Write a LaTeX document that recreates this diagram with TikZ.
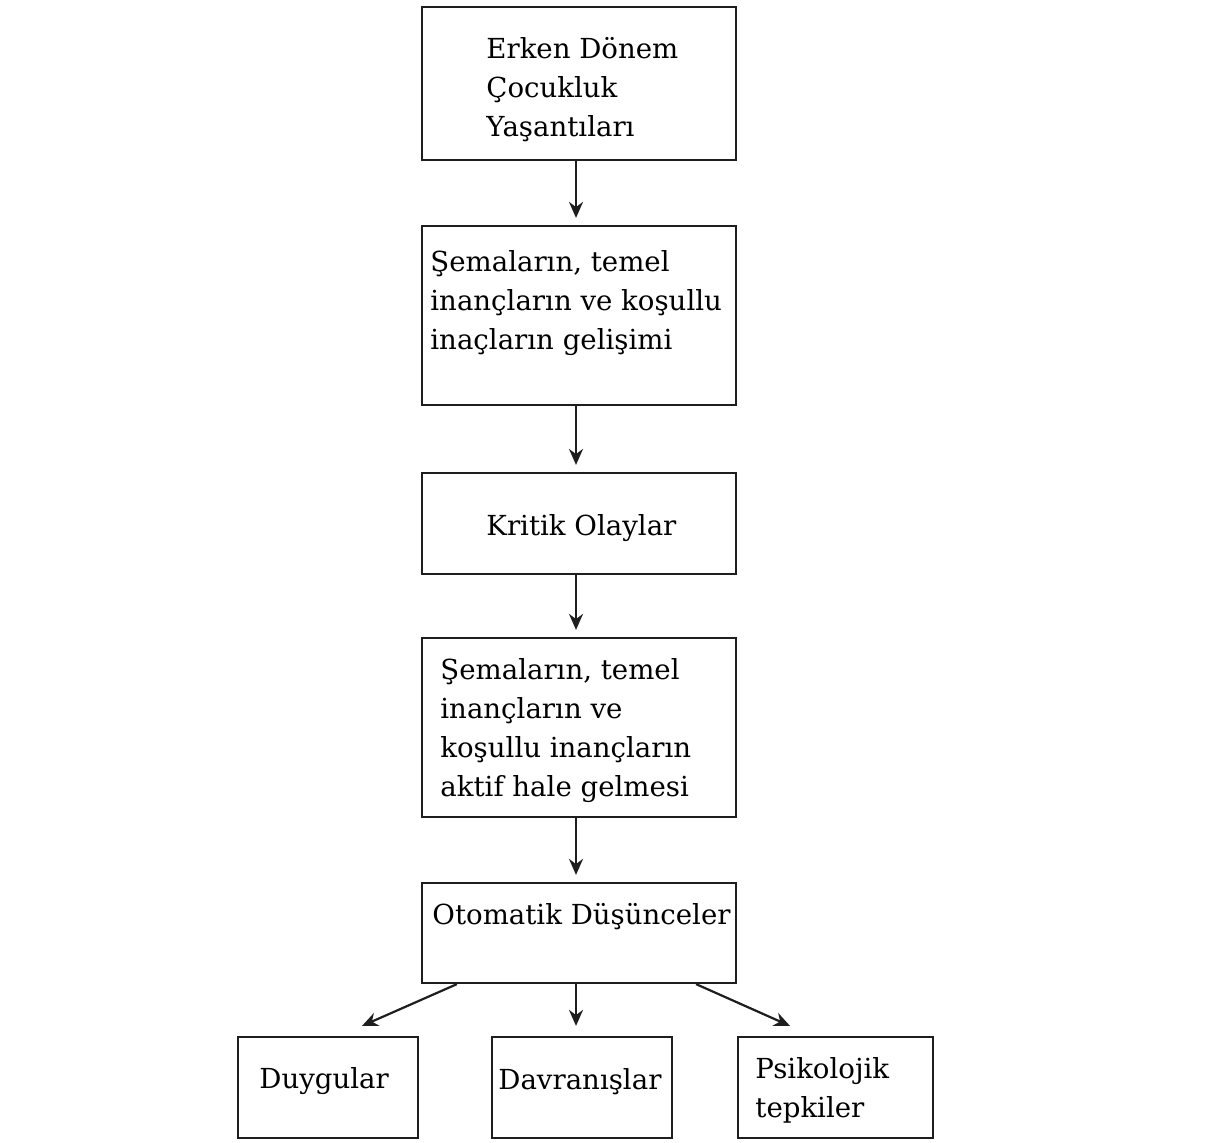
\documentclass[tikz,border=0pt]{standalone}
\usepackage{fontspec}
\setmainfont{DejaVu Serif}
\usepackage{xcolor}
\usetikzlibrary{arrows.meta}
\definecolor{inkgray}{RGB}{30, 30, 30}

\begin{document}
\begin{tikzpicture}[x=0.5pt, y=-0.5pt,
    kutu/.style={draw=inkgray, line width=1.1pt, rectangle, inner sep=0pt},
    yazi/.style={anchor=base west, inner sep=0pt, align=left, text=black,
                 font=\fontsize{13.8}{19.5}\selectfont},
    ok/.style={-{Stealth[length=8pt, width=7pt]}, draw=inkgray, line width=1.1pt}]
        \useasboundingbox (0,0) rectangle (1213,1142);

        % kutular
        \node[kutu, minimum width=157pt, minimum height=76.5pt] (b1) at (579,83.5) {};
        \node[kutu, minimum width=157pt, minimum height=89.5pt] (b2) at (579,315.5) {};
        \node[kutu, minimum width=157pt, minimum height=50.5pt] (b3) at (579,523.5) {};
        \node[kutu, minimum width=157pt, minimum height=89.5pt] (b4) at (579,727.5) {};
        \node[kutu, minimum width=157pt, minimum height=50pt] (b5) at (579,933) {};
        \node[kutu, minimum width=90pt, minimum height=50.5pt] (b6) at (328,1087.5) {};
        \node[kutu, minimum width=90pt, minimum height=50.5pt] (b7) at (582,1087.5) {};
        \node[kutu, minimum width=97.5pt, minimum height=50.5pt] (b8) at (835.5,1087.5) {};

        % yazilar (base = son satir)
        \node[yazi] (t1) at (486,136) {Erken Dönem\\Çocukluk\\Yaşantıları};
        \node[yazi] (t2) at (430,349) {Şemaların, temel\\inançların ve koşullu\\inaçların gelişimi};
        \node[yazi] (t3) at (486,535) {Kritik Olaylar};
        \node[yazi] (t4) at (440,796) {Şemaların, temel\\inançların ve\\koşullu inançların\\aktif hale gelmesi};
        \node[yazi] (t5) at (432,924) {Otomatik Düşünceler};
        \node[yazi] (t6) at (259,1088) {Duygular};
        \node[yazi] (t7) at (498,1089) {Davranışlar};
        \node[yazi] (t8) at (755,1117) {Psikolojik\\tepkiler};

        % oklar
        \draw[ok, shorten >=3.5pt] ([xshift=-1.5pt]b1.south) -- ([xshift=-1.5pt]b2.north);
        \draw[ok, shorten >=3.5pt] ([xshift=-1.5pt]b2.south) -- ([xshift=-1.5pt]b3.north);
        \draw[ok, shorten >=3.5pt] ([xshift=-1.5pt]b3.south) -- ([xshift=-1.5pt]b4.north);
        \draw[ok, shorten >=3.5pt] ([xshift=-1.5pt]b4.south) -- ([xshift=-1.5pt]b5.north);
        \draw[ok] ([xshift=18pt]b5.south west) -- ([xshift=17pt, yshift=5pt]b6.north);
        \draw[ok, shorten >=5pt] ([xshift=-1.5pt]b5.south) -- ([xshift=-3pt]b7.north);
        \draw[ok] ([xshift=-20.5pt]b5.south east) -- ([xshift=-22.75pt, yshift=5pt]b8.north);
    \end{tikzpicture}
\end{document}
